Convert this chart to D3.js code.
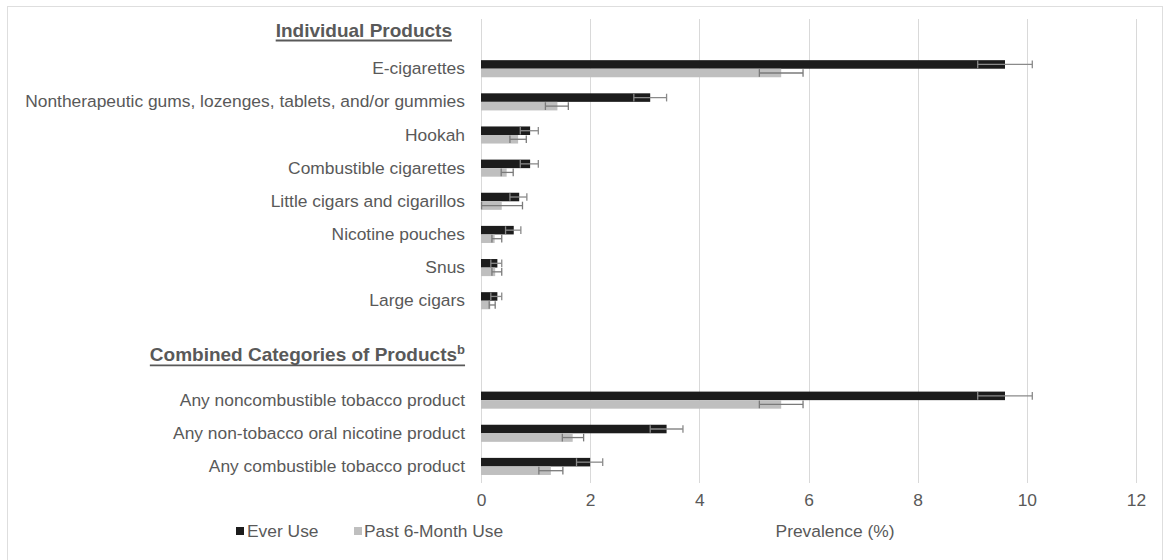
<!DOCTYPE html>
<html>
<head>
<meta charset="utf-8">
<script src="https://cdn.jsdelivr.net/npm/d3@7"></script>
<style>
  html, body { margin: 0; padding: 0; background: #fff; }
  svg text { font-family: "Liberation Sans", Arial, sans-serif; }
</style>
</head>
<body>
<svg id="chart" width="1165" height="560"></svg>
<script>
// ---- Data ----
const individualProducts = ["E-cigarettes", "Nontherapeutic gums, lozenges, tablets, and/or gummies", "Hookah", "Combustible cigarettes", "Little cigars and cigarillos", "Nicotine pouches", "Snus", "Large cigars"];
const combinedProducts = ["Any noncombustible tobacco product", "Any non-tobacco oral nicotine product", "Any combustible tobacco product"];
const categories = individualProducts.concat(combinedProducts);

const everUse      = [9.6, 3.1, 0.9, 0.9, 0.7, 0.6, 0.3, 0.3, 9.6, 3.4, 2.0];
const everLow      = [9.1, 2.8, 0.72, 0.72, 0.53, 0.45, 0.18, 0.18, 9.1, 3.1, 1.75];
const everHigh     = [10.1, 3.4, 1.05, 1.05, 0.84, 0.73, 0.38, 0.38, 10.1, 3.7, 2.23];
const pastUse      = [5.5, 1.4, 0.68, 0.47, 0.38, 0.25, 0.26, 0.17, 5.5, 1.68, 1.28];
const pastLow      = [5.1, 1.18, 0.53, 0.37, 0.01, 0.2, 0.2, 0.15, 5.1, 1.49, 1.06];
const pastHigh     = [5.9, 1.6, 0.83, 0.59, 0.76, 0.38, 0.38, 0.26, 5.9, 1.88, 1.5];

const xTicks = [0, 2, 4, 6, 8, 10, 12];
const seriesNames = ["Ever Use", "Past 6-Month Use"];
const headerIndividual = "Individual Products";
const headerCombined = "Combined Categories of Products";
const headerCombinedSup = "b";
const xTitle = "Prevalence (%)";

// ---- Layout ----
const svg = d3.select("#chart");
const textColor = "#595959";
const gridColor = "#d9d9d9";
const colors = ["#1c1c1c", "#bfbfbf"];
const fs = 17.4;

// border
svg.append("rect").attr("x", 7.5).attr("y", 6.5).attr("width", 1155).attr("height", 570)
  .attr("fill", "none").attr("stroke", "#dedede").attr("stroke-width", 1);

const slots = ["__h1"].concat(individualProducts, ["__s1", "__s2"], combinedProducts);
const y = d3.scaleBand().domain(slots).range([19, 483]).paddingInner(0).paddingOuter(0);
const x = d3.scaleLinear().domain([0, 12]).range([481, 1136]);

const inner = d3.scaleBand().domain(seriesNames).range([0, y.bandwidth()]).paddingInner(0).paddingOuter(0.94);

// grid
svg.append("g").selectAll("line").data(xTicks).join("line")
  .attr("x1", d => Math.round(x(d)) + 0.5).attr("x2", d => Math.round(x(d)) + 0.5)
  .attr("y1", 19).attr("y2", 483)
  .attr("stroke", gridColor).attr("stroke-width", 1);

// x axis tick labels
const xAxis = d3.axisBottom(x).tickValues(xTicks).tickSize(0).tickPadding(0).tickFormat(d3.format("d"));
const gx = svg.append("g").attr("transform", "translate(0,494)").call(xAxis);
gx.select(".domain").remove();
gx.selectAll("text").attr("fill", textColor).attr("font-size", fs)
  .attr("font-family", "Liberation Sans, Arial, sans-serif");

// category labels
const yAxis = d3.axisLeft(y).tickValues(categories).tickSize(0).tickPadding(0);
const gy = svg.append("g").attr("transform", "translate(465,0)").call(yAxis);
gy.select(".domain").remove();
gy.selectAll("text").attr("fill", textColor).attr("font-size", fs)
  .attr("font-family", "Liberation Sans, Arial, sans-serif");

// bars
const rows = categories.map((c, i) => ({
  cat: c,
  vals: [
    {s: seriesNames[0], v: everUse[i], lo: everLow[i], hi: everHigh[i]},
    {s: seriesNames[1], v: pastUse[i], lo: pastLow[i], hi: pastHigh[i]}
  ]
}));

const rowG = svg.append("g").selectAll("g").data(rows).join("g")
  .attr("transform", d => `translate(0,${y(d.cat)})`);

rowG.selectAll("rect").data(d => d.vals).join("rect")
  .attr("x", x(0))
  .attr("y", d => inner(d.s))
  .attr("width", d => x(d.v) - x(0))
  .attr("height", inner.bandwidth())
  .attr("fill", (d, i) => colors[i]);

// error bars
const errColor = ["#8a8a8a", "#7a7a7a"];
rowG.each(function(d) {
  const g = d3.select(this);
  d.vals.forEach((e, i) => {
    const cy = inner(e.s) + inner.bandwidth() / 2;
    const h = inner.bandwidth() * 0.45;
    g.append("line").attr("x1", x(e.lo)).attr("x2", x(e.hi)).attr("y1", cy).attr("y2", cy)
      .attr("stroke", errColor[i]).attr("stroke-width", 1.3);
    [e.lo, e.hi].forEach(v => {
      g.append("line").attr("x1", x(v)).attr("x2", x(v)).attr("y1", cy - h).attr("y2", cy + h)
        .attr("stroke", errColor[i]).attr("stroke-width", 1.3);
    });
  });
});

// headers
function header(txt, sup, xr, yb) {
  const t = svg.append("text").attr("x", xr).attr("y", yb).attr("text-anchor", "end")
    .attr("font-size", 19).attr("font-weight", "bold").attr("fill", textColor).text(txt);
  if (sup) {
    t.append("tspan").attr("font-size", 13).attr("dy", -7).text(sup);
  }
  const bb = t.node().getBBox();
  svg.append("line").attr("x1", bb.x).attr("x2", bb.x + bb.width)
    .attr("y1", yb + 4).attr("y2", yb + 4).attr("stroke", textColor).attr("stroke-width", 1.8);
}
header(headerIndividual, null, 452, y("__h1") + 17.5);
header(headerCombined, headerCombinedSup, 465, y("__s2") + 11);

// x title
svg.append("text").attr("x", 835).attr("y", 537).attr("text-anchor", "middle")
  .attr("font-size", fs).attr("fill", textColor).text(xTitle);

// legend
const legendSq = [236, 354];
const legendTx = [247, 364];
seriesNames.forEach((s, i) => {
  svg.append("rect").attr("x", legendSq[i]).attr("y", 527).attr("width", 8).attr("height", 8).attr("fill", colors[i]);
  svg.append("text").attr("x", legendTx[i]).attr("y", 537).attr("font-size", fs)
    .attr("fill", textColor).text(s);
});
</script>
</body>
</html>
